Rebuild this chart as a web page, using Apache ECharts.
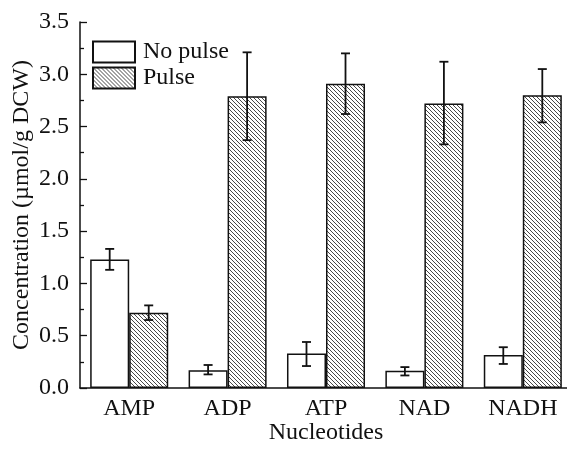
<!DOCTYPE html>
<html>
<head>
<meta charset="utf-8">
<script src="https://cdn.jsdelivr.net/npm/echarts@6/dist/echarts.min.js"></script>
<style>
  html, body { margin: 0; padding: 0; background: #fff; }
  #main { width: 567px; height: 449px; }
</style>
</head>
<body>
<div id="main"></div>
<script>
// data
var categories = ["AMP", "ADP", "ATP", "NAD", "NADH"];
var noPulse = [1.23, 0.17, 0.33, 0.165, 0.315];
var noPulseLow = [1.13, 0.13, 0.21, 0.12, 0.23];
var noPulseHigh = [1.33, 0.22, 0.44, 0.20, 0.39];
var pulse = [0.72, 2.79, 2.91, 2.72, 2.80];
var pulseLow = [0.65, 2.37, 2.62, 2.33, 2.54];
var pulseHigh = [0.79, 3.21, 3.20, 3.12, 3.05];

var FONT = "Liberation Serif";
var FS = 24;
var CAT_GAP = 0.207;

// hatch pattern for "Pulse"
function makeHatch() {
  var c = document.createElement("canvas");
  c.width = 4; c.height = 4;
  var ctx = c.getContext("2d");
  ctx.fillStyle = "#fff";
  ctx.fillRect(0, 0, 4, 4);
  ctx.strokeStyle = "#333";
  ctx.lineWidth = 0.9;
  ctx.beginPath();
  ctx.moveTo(-1, -1); ctx.lineTo(5, 5);
  ctx.moveTo(-1, 3); ctx.lineTo(1, 5);
  ctx.moveTo(3, -1); ctx.lineTo(5, 1);
  ctx.stroke();
  return c;
}
var hatch = { image: makeHatch(), repeat: "repeat" };

function errData(lo, hi) {
  return categories.map(function (c, i) { return [i, lo[i], hi[i]]; });
}

function errRender(side) {
  return function (params, api) {
    var i = api.value(0);
    var lo = api.coord([i, api.value(1)]);
    var hi = api.coord([i, api.value(2)]);
    var bw = api.size([1, 0])[0] * (1 - CAT_GAP) / 2;
    var x = lo[0] + side * bw / 2;
    var cap = 4.5;
    var st = { stroke: "#111", lineWidth: 1.8 };
    return {
      type: "group",
      children: [
        { type: "line", shape: { x1: x, y1: lo[1], x2: x, y2: hi[1] }, style: st },
        { type: "line", shape: { x1: x - cap, y1: lo[1], x2: x + cap, y2: lo[1] }, style: st },
        { type: "line", shape: { x1: x - cap, y1: hi[1], x2: x + cap, y2: hi[1] }, style: st }
      ]
    };
  };
}

var chart = echarts.init(document.getElementById("main"));
chart.setOption({
  backgroundColor: "#fff",
  animation: false,
  textStyle: { fontFamily: FONT },
  legend: {
    orient: "vertical",
    left: 92,
    top: 40,
    padding: 0,
    itemWidth: 42,
    itemHeight: 21,
    itemGap: 2,
    icon: "rect",
    textStyle: { fontFamily: FONT, fontSize: FS, color: "#111", padding: [0, 0, 0, 3] },
    data: ["No pulse", "Pulse"]
  },
  grid: { left: 80, top: 22, height: 366, width: 492, containLabel: false, outerBoundsMode: "none" },
  xAxis: {
    type: "category",
    data: categories,
    name: "Nucleotides",
    nameLocation: "middle",
    nameGap: 33,
    nameMoveOverlap: false,
    nameTextStyle: { fontFamily: FONT, fontSize: FS, color: "#111" },
    axisLine: { lineStyle: { color: "#111", width: 1.5 } },
    axisTick: { show: false },
    axisLabel: { fontFamily: FONT, fontSize: FS, color: "#111", margin: 9 }
  },
  yAxis: {
    type: "value",
    min: 0,
    max: 3.5,
    interval: 0.5,
    name: "Concentration (\u00b5mol/g DCW)",
    nameLocation: "middle",
    nameGap: 46,
    nameMoveOverlap: false,
    nameTextStyle: { fontFamily: FONT, fontSize: FS, color: "#111" },
    axisLine: { show: true, lineStyle: { color: "#111", width: 1.5 } },
    axisTick: { show: true, inside: true, length: 7, lineStyle: { color: "#111", width: 1.3 } },
    minorTick: { show: true, splitNumber: 2, length: 4, lineStyle: { color: "#111", width: 1.3 } },
    splitLine: { show: false },
    axisLabel: {
      fontFamily: FONT, fontSize: FS, color: "#111", margin: 11,
      formatter: function (v) { return v.toFixed(1); }
    }
  },
  series: [
    {
      name: "No pulse",
      type: "bar",
      data: noPulse,
      barGap: "0%",
      barCategoryGap: (CAT_GAP * 100) + "%",
      itemStyle: { color: "#fff", borderColor: "#111", borderWidth: 1.5 }
    },
    {
      name: "Pulse",
      type: "bar",
      data: pulse,
      barGap: "0%",
      barCategoryGap: (CAT_GAP * 100) + "%",
      itemStyle: { color: hatch, borderColor: "#111", borderWidth: 1.5 }
    },
    {
      type: "custom",
      renderItem: errRender(-1),
      data: errData(noPulseLow, noPulseHigh),
      z: 10,
      silent: true
    },
    {
      type: "custom",
      renderItem: errRender(1),
      data: errData(pulseLow, pulseHigh),
      z: 10,
      silent: true
    }
  ]
});
</script>
</body>
</html>
